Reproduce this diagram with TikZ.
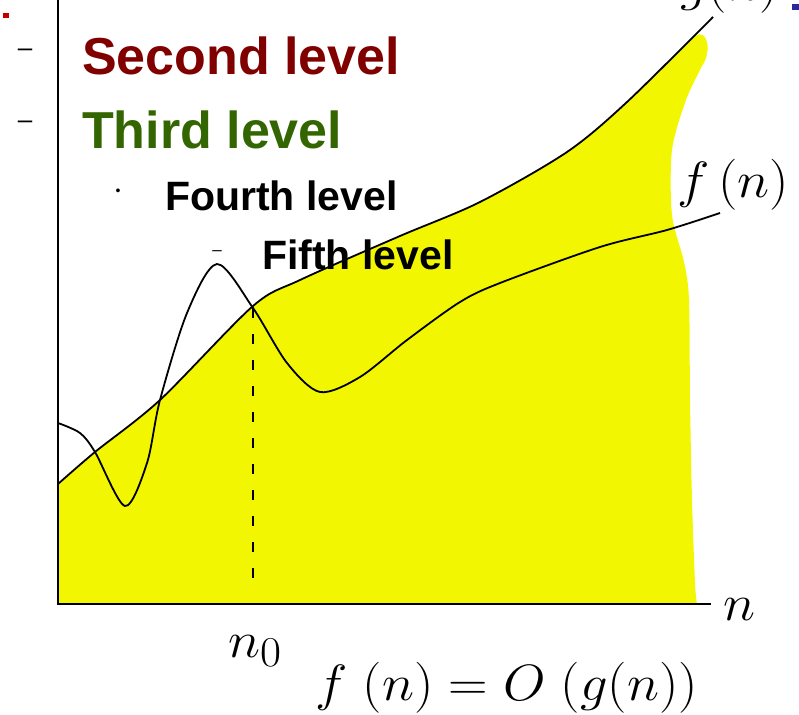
\documentclass[tikz,border=0pt]{standalone}
\usepackage{graphicx}
\usepackage{fontspec}
\newfontfamily\slidefont{Liberation Sans}
\newcommand{\plotmath}[1]{\scalebox{2.2}[2.05]{$#1$}}
\definecolor{lvltwo}{RGB}{128,0,0}
\definecolor{lvlthree}{RGB}{51,102,0}
\definecolor{hilite}{RGB}{242,246,0}
\definecolor{bulletred}{RGB}{192,0,0}
\definecolor{titleblue}{RGB}{40,40,160}
\tikzset{
    levelbig/.style={anchor=base west, inner sep=0pt, font=\slidefont\bfseries\fontsize{52}{60}\selectfont},
    levelsmall/.style={anchor=base west, inner sep=0pt, font=\slidefont\bfseries\fontsize{41}{48}\selectfont},
    bulletmark/.style={inner sep=0pt, font=\slidefont\fontsize{26}{30}\selectfont},
    mathlbl/.style={anchor=base west, inner sep=0pt, font=\fontsize{24.88}{30}\selectfont},
    axis/.style={line width=1.8pt},
    curve/.style={line width=1.8pt},
}

\begin{document}
\begin{tikzpicture}[x=1pt, y=-1pt]
    \useasboundingbox (0,0) rectangle (799,714);
    % region under g(n)
    \fill[hilite] (58,604) -- plot[smooth] coordinates {(58,484) (95,452) (160,400) (253,306) (300,280) (400,236) (480,202) (567,152) (627,102) (695,36)}
        .. controls (708,28) and (712,52) .. (702,66)
        -- plot[smooth] coordinates {(702,66) (686,100) (672,150) (672,215) (684,262) (689,300) (690,400) (692,500) (695,583) (697,604)}
        -- cycle;
    % axes
    \coordinate (ytop) at (58,0);
    \coordinate (origin) at (58,604);
    \coordinate (xend) at (711,604);
    \draw[axis] (ytop) -- (origin) -- (xend);
    % g(n)
    \draw[curve] plot[smooth] coordinates {(58,484) (95,452) (160,400) (253,306) (300,280) (400,236) (480,202) (567,152) (627,102) (713,17)};
    % f(n)
    \draw[curve] plot[smooth] coordinates {(58,423) (80,433) (95,452) (125,506) (147,463) (160,400) (187,313) (217,264) (253,308) (287,363) (320,392) (360,377) (407,340) (460,302) (500,283) (600,247) (667,230) (720,213)};
    % n_0
    \coordinate (cross) at (253,308);
    \coordinate (foot) at (253,594);
    \draw[curve, dash pattern=on 10pt off 16pt] (cross) -- (foot);
    \node[mathlbl] (xlbl) at (723,620) {\plotmath{n}};
    \node[mathlbl] (nzero) at (228,657) {\plotmath{n_0}};
    \node[mathlbl] (flbl) at (677,197) {\plotmath{f\,(n)}};
    \node[mathlbl] (glbl) at (680,1) {\plotmath{g(n)}};
    \node[mathlbl] (bigo) at (315,700) {\plotmath{f\;(n) = O\;(g(n))}};
    % slide text
    \fill[bulletred] (3,13) rectangle (9,18);
    \fill[titleblue] (792,4) rectangle (799,10);
    \node[bulletmark] (b2) at (25,53) {–};
    \node[levelbig, text=lvltwo] (second) at (82,75) {Second level};
    \node[bulletmark] (b3) at (25,125) {–};
    \node[levelbig, text=lvlthree] (third) at (82,149) {Third level};
    \node[bulletmark, font=\slidefont\fontsize{14}{16}\selectfont] (b4) at (118,192) {•};
    \node[levelsmall] (fourth) at (165,210) {Fourth level};
    \node[bulletmark, font=\slidefont\fontsize{17}{20}\selectfont] (b5) at (217,253) {–};
    \node[levelsmall] (fifth) at (262,269) {Fifth level};
\end{tikzpicture}
\end{document}
